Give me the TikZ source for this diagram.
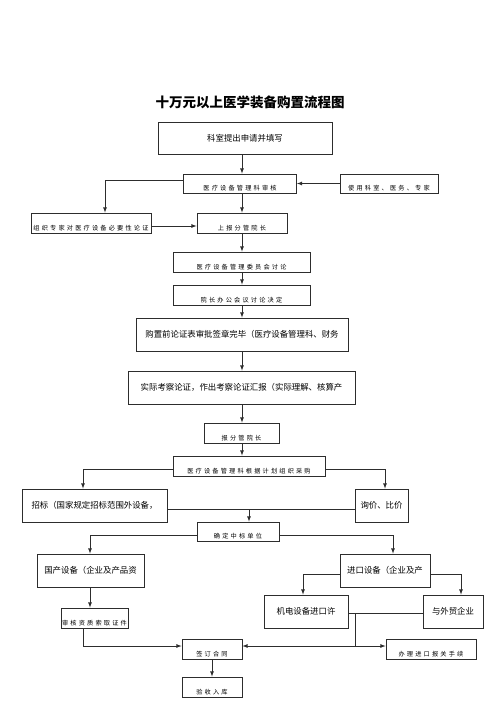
\documentclass[tikz,border=0pt]{standalone}
\usepackage{fontspec}
\usepackage{tikz}
\usetikzlibrary{arrows, positioning, calc}
\setmainfont{Noto Sans CJK SC}
\newfontfamily\smallcjk[LetterSpace=35]{Noto Sans CJK SC}
\definecolor{lineblack}{RGB}{45,45,45}

\begin{document}
\begin{tikzpicture}[x=1pt,y=-1pt,
    flowbox/.style={rectangle,draw=lineblack,line width=0.8pt,inner sep=0pt},
    bigtext/.style={font=\fontsize{8.4}{10}\selectfont,inner sep=0pt},
    smalltext/.style={font=\smallcjk\fontsize{6.2}{7}\selectfont,inner sep=0pt,anchor=south,yshift=2pt},
    arr/.style={-latex,line width=0.8pt,draw=lineblack},
    link/.style={line width=0.8pt,draw=lineblack}]
    \useasboundingbox (0,0) rectangle (500,707);

    % Titolo
    \node[font=\fontsize{13.5}{16}\selectfont\bfseries] (title) at (250,102) {十万元以上医学装备购置流程图};

    % Richiesta e revisione
    \node[flowbox,minimum width=174pt,minimum height=32pt] (apply) at (245,138) {};
    \node[bigtext] at (apply.center) {科室提出申请并填写};
    \node[flowbox,minimum width=113pt,minimum height=19pt] (review) at (240,183.5) {};
    \node[smalltext] at (review.south) {医疗设备管理科审核};
    \node[flowbox,minimum width=98pt,minimum height=19pt] (users) at (389,183.5) {};
    \node[smalltext] at (users.south) {使用科室、医务、专家};
    \node[flowbox,minimum width=120pt,minimum height=20pt] (expert) at (91,223) {};
    \node[smalltext] at (expert.south) {组织专家对医疗设备必要性论证};
    \node[flowbox,minimum width=90pt,minimum height=20pt] (deputy) at (242,223) {};
    \node[smalltext] at (deputy.south) {上报分管院长};

    % Comitati
    \node[flowbox,minimum width=137pt,minimum height=20pt] (committee) at (241.5,262) {};
    \node[smalltext] at (committee.south) {医疗设备管理委员会讨论};
    \node[flowbox,minimum width=137pt,minimum height=20pt] (office) at (241.5,295) {};
    \node[smalltext] at (office.south) {院长办公会议讨论决定};
    \node[flowbox,minimum width=212pt,minimum height=33pt] (signoff) at (242,334.5) {};
    \node[bigtext] at (signoff.center) {购置前论证表审批签章完毕（医疗设备管理科、财务};
    \node[flowbox,minimum width=227pt,minimum height=33pt] (survey) at (241.5,387.5) {};
    \node[bigtext] at (survey.center) {实际考察论证，作出考察论证汇报（实际理解、核算产};
    \node[flowbox,minimum width=75pt,minimum height=20pt] (report) at (241.5,433) {};
    \node[smalltext] at (report.south) {报分管院长};
    \node[flowbox,minimum width=152pt,minimum height=20pt] (purchase) at (249,466) {};
    \node[smalltext] at (purchase.south) {医疗设备管理科根据计划组织采购};

    % Modalita di acquisto
    \node[flowbox,minimum width=145pt,minimum height=33pt] (tender) at (94.5,505.5) {};
    \node[bigtext] at (tender.center) {招标（国家规定招标范围外设备，};
    \node[flowbox,minimum width=53pt,minimum height=33pt] (inquiry) at (381.5,505.5) {};
    \node[bigtext] at (inquiry.center) {询价、比价};
    \node[flowbox,minimum width=82pt,minimum height=19pt] (winner) at (238,531.5) {};
    \node[smalltext] at (winner.south) {确定中标单位};

    % Nazionale / importato
    \node[flowbox,minimum width=107pt,minimum height=33pt] (domestic) at (90.5,570.5) {};
    \node[bigtext] at (domestic.center) {国产设备（企业及产品资};
    \node[flowbox,minimum width=90pt,minimum height=33pt] (imported) at (385,570.5) {};
    \node[bigtext] at (imported.center) {进口设备（企业及产};
    \node[flowbox,minimum width=67pt,minimum height=20pt] (papers) at (94.5,618) {};
    \node[smalltext] at (papers.south) {审核资质索取证件};
    \node[flowbox,minimum width=84pt,minimum height=33pt] (license) at (306,611.5) {};
    \node[bigtext] at (license.center) {机电设备进口许};
    \node[flowbox,minimum width=60pt,minimum height=33pt] (trade) at (453,611.5) {};
    \node[bigtext] at (trade.center) {与外贸企业};
    \node[flowbox,minimum width=60pt,minimum height=20pt] (contract) at (212,649) {};
    \node[smalltext] at (contract.south) {签订合同};
    \node[flowbox,minimum width=90pt,minimum height=20pt] (customs) at (431,649) {};
    \node[smalltext] at (customs.south) {办理进口报关手续};
    \node[flowbox,minimum width=60pt,minimum height=20pt] (storage) at (212,687) {};
    \node[smalltext] at (storage.south) {验收入库};

    % Connessioni
    \draw[arr] (apply.south -| deputy) -- (review.north -| deputy);
    \draw[arr] (users.west) -- (review.east);
    \draw[arr] ([yshift=3.5pt]review.west) -| ([xshift=14pt]expert.north);
    \draw[arr] ([yshift=-3pt]expert.east) -- ([yshift=-3pt]deputy.west);
    \draw[arr] (review.south -| deputy) -- (deputy.north);
    \draw[arr] (deputy.south) -- (deputy.south |- committee.north);
    \draw[arr] (committee.south -| deputy) -- (office.north -| deputy);
    \draw[arr] (office.south -| deputy) -- (signoff.north -| deputy);
    \draw[arr] (signoff.south -| deputy) -- (survey.north -| deputy);
    \draw[arr] (survey.south -| deputy) -- (report.north -| deputy);
    \draw[arr] (report.south -| deputy) -- (purchase.north -| deputy);
    \draw[arr] ([yshift=-3pt]purchase.west) -| ([xshift=-11.5pt]tender.north);
    \draw[arr] ([yshift=-3pt]purchase.east) -| ([xshift=3.5pt]inquiry.north);
    \coordinate (split) at (249,509);
    \draw[link] ([yshift=-3.5pt]tender.east) -- ([yshift=-3.5pt]inquiry.west);
    \draw[arr] (split) -- (split |- winner.north);
    \draw[arr] ([yshift=-3.5pt]winner.west) -| ([xshift=-0.5pt]domestic.north);
    \draw[arr] ([yshift=-3.5pt]winner.east) -| ([xshift=8pt]imported.north);
    \draw[arr] ([xshift=-0.5pt]domestic.south) -- ([xshift=-0.5pt]domestic.south |- papers.north);
    \draw[arr] ([yshift=-3.5pt]imported.west) -| ([xshift=-3pt]license.north);
    \draw[arr] ([yshift=-3.5pt]imported.east) -| ([xshift=8pt]trade.north);
    \draw[link] ([yshift=-1.5pt]license.east) -- ([yshift=-1.5pt]trade.west);
    \coordinate (merge) at (355,613);
    \coordinate (hub) at (355,646);
    \draw[link] (merge) -- (hub);
    \draw[arr] (hub) -- (hub -| contract.east);
    \draw[arr] (hub) -- (hub -| customs.west);
    \draw[arr] ([xshift=-11.5pt]papers.south) |- (hub -| contract.west);
    \draw[arr] (contract.south) -- (storage.north);
\end{tikzpicture}
\end{document}
